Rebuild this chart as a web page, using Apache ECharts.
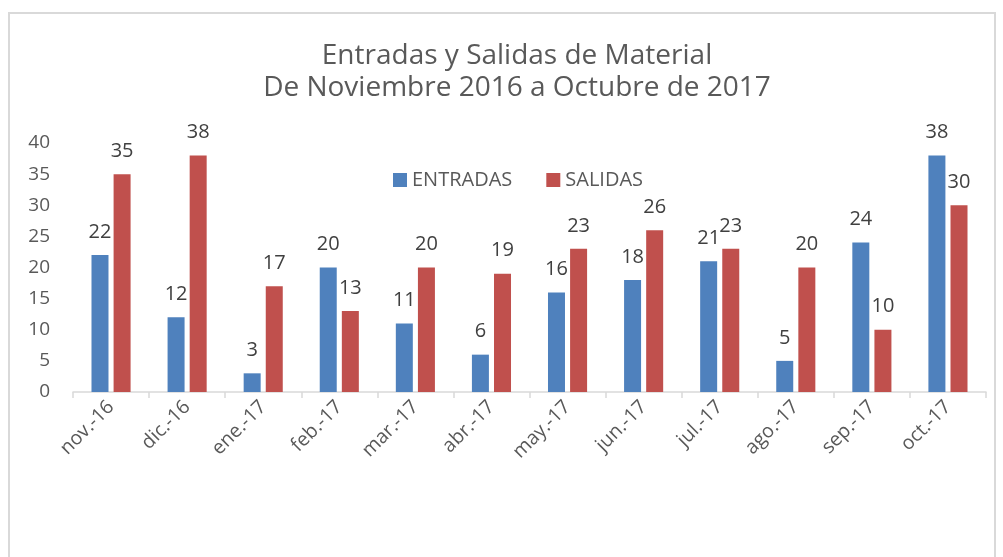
<!DOCTYPE html>
<html>
<head>
<meta charset="utf-8">
<script src="https://cdn.jsdelivr.net/npm/echarts@6/dist/echarts.min.js"></script>
<style>
  html, body { margin: 0; padding: 0; background: #fff; }
  #main { width: 1003px; height: 557px; }
</style>
</head>
<body>
<div id="main"></div>
<script>
// meses y valores
var months = ['nov.-16', 'dic.-16', 'ene.-17', 'feb.-17', 'mar.-17', 'abr.-17',
              'may.-17', 'jun.-17', 'jul.-17', 'ago.-17', 'sep.-17', 'oct.-17'];
var entradas = [22, 12, 3, 20, 11, 6, 16, 18, 21, 5, 24, 38];
var salidas = [35, 38, 17, 13, 20, 19, 23, 26, 23, 20, 10, 30];
var yTicks = { min: 0, max: 40, interval: 5 };

var font = '"Open Sans", "Noto Sans", sans-serif';

var chart = echarts.init(document.getElementById('main'));

function barSeries(name, data, color) {
  return {
    name: name,
    type: 'bar',
    data: data,
    barWidth: 17,
    barGap: '30%',
    itemStyle: { color: color },
    label: {
      show: true,
      position: 'top',
      distance: 13,
      color: '#404040',
      fontSize: 20,
      fontFamily: font
    }
  };
}

chart.setOption({
  animation: false,
  backgroundColor: '#fff',
  title: {
    text: 'Entradas y Salidas de Material\nDe Noviembre 2016 a Octubre de 2017',
    left: 512,
    top: 35,
    textAlign: 'center',
    textStyle: {
      color: '#595959',
      fontSize: 28,
      lineHeight: 32,
      fontWeight: 'normal',
      fontFamily: font
    }
  },
  legend: {
    left: 393,
    top: 170,
    padding: 0,
    icon: 'rect',
    itemWidth: 14,
    itemHeight: 14,
    itemGap: 34,
    textStyle: { color: '#595959', fontSize: 20, fontFamily: font },
    data: ['ENTRADAS', 'SALIDAS']
  },
  grid: { left: 73, right: 17, top: 143, bottom: 165 },
  xAxis: {
    type: 'category',
    data: months,
    axisLine: { lineStyle: { color: '#D9D9D9', width: 1.5 } },
    axisTick: { show: true, length: 6, lineStyle: { color: '#D9D9D9', width: 1.5 } },
    axisLabel: {
      rotate: 45,
      margin: 12,
      color: '#595959',
      fontSize: 19.5,
      fontFamily: font
    }
  },
  yAxis: {
    type: 'value',
    min: yTicks.min,
    max: yTicks.max,
    interval: yTicks.interval,
    axisLine: { show: false },
    axisTick: { show: false },
    splitLine: { show: false },
    axisLabel: { margin: 23, color: '#595959', fontSize: 19, fontFamily: font }
  },
  graphic: [{
    type: 'rect',
    silent: true,
    shape: { x: 9, y: 13, width: 986, height: 560 },
    style: { fill: 'none', stroke: '#D9D9D9', lineWidth: 2 }
  }],
  series: [
    barSeries('ENTRADAS', entradas, '#4F81BD'),
    barSeries('SALIDAS', salidas, '#C0504D')
  ]
});
</script>
</body>
</html>
